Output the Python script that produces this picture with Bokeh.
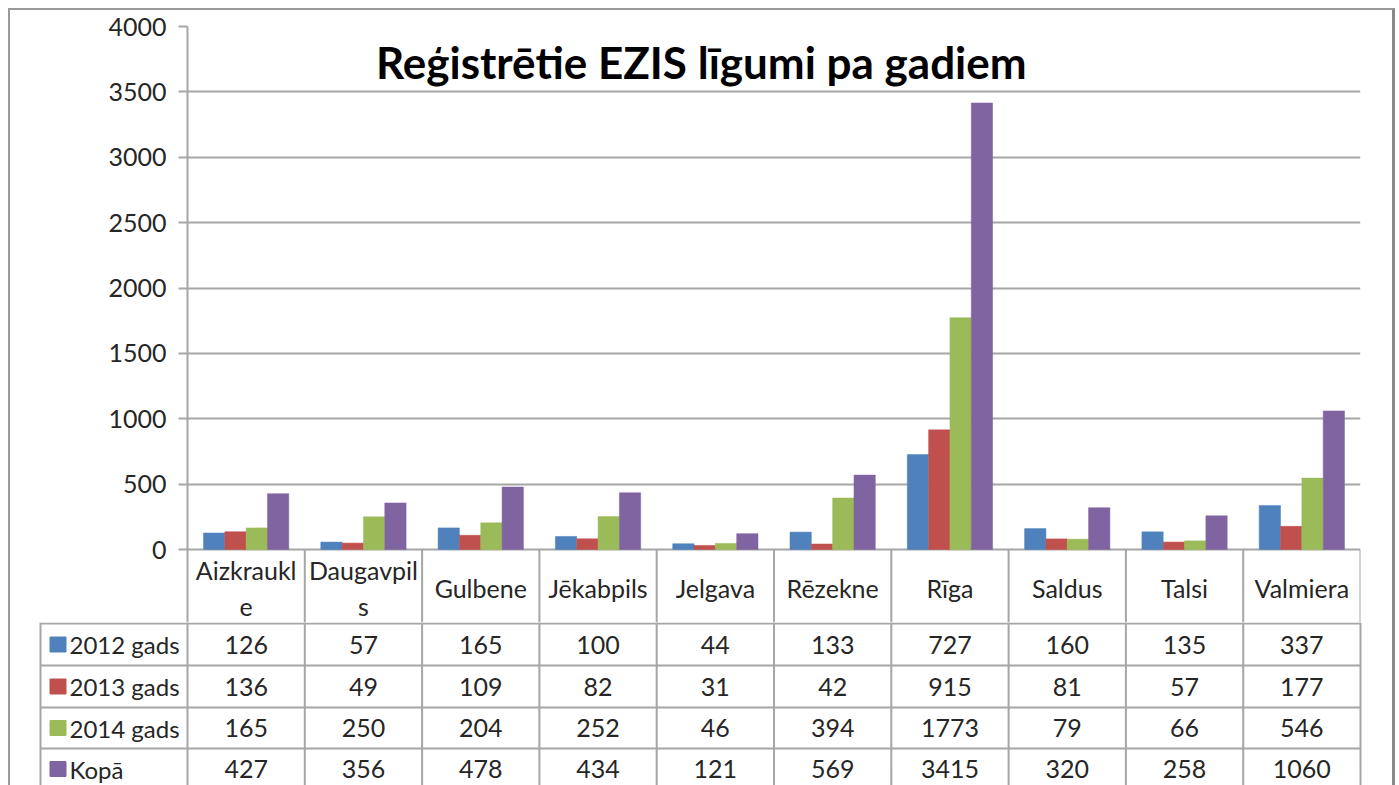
import numpy as np
from bokeh.plotting import figure
from bokeh.models import Range1d, FixedTicker, ColumnDataSource, Label
from bokeh.layouts import column
from bokeh.embed import file_html
from bokeh.resources import INLINE
from bokeh.core.properties import value

# ---------------- data ----------------
title_text = "Reģistrētie EZIS līgumi pa gadiem"
categories = ["Aizkraukle", "Daugavpils", "Gulbene", "Jēkabpils", "Jelgava",
              "Rēzekne", "Rīga", "Saldus", "Talsi", "Valmiera"]
series_names = ["2012 gads", "2013 gads", "2014 gads", "Kopā"]
v2012 = [126, 57, 165, 100, 44, 133, 727, 160, 135, 337]
v2013 = [136, 49, 109, 82, 31, 42, 915, 81, 57, 177]
v2014 = [165, 250, 204, 252, 46, 394, 1773, 79, 66, 546]
v_total = [427, 356, 478, 434, 121, 569, 3415, 320, 258, 1060]
y_ticks = [0, 500, 1000, 1500, 2000, 2500, 3000, 3500, 4000]
colors = ["#4F81BD", "#C0504D", "#9BBB59", "#8064A2"]

series = [v2012, v2013, v2014, v_total]

# ---------------- layout constants ----------------
W = 1382
FRAME_L = 177
CAT_PX = 117.3
N = len(categories)
FRAME_R_BORDER = W - FRAME_L - int(round(CAT_PX * N))
H1 = 612          # chart + category header row
H2 = 163          # data rows
FONT = "Lato"
TXT = "#262626"
LINE = "#A6A6A6"

# ---------------- top chart (with category header row) ----------------
px_per_val = 523.0 / 4000.0
header_px = 73
y_bottom = -header_px / px_per_val
p = figure(width=W, height=H1, output_backend="svg", toolbar_location=None,
           x_range=Range1d(-0.5, N - 0.5),
           y_range=Range1d(y_bottom, 4000),
           x_axis_location=None, min_border_left=FRAME_L,
           min_border_right=FRAME_R_BORDER, min_border_top=16,
           min_border_bottom=0)
p.frame_align = False
p.outline_line_color = None
p.background_fill_color = "white"
p.border_fill_color = "white"
p.xgrid.visible = False
p.ygrid.grid_line_color = LINE
p.ygrid.grid_line_width = 2
p.yaxis.ticker = FixedTicker(ticks=y_ticks)
p.yaxis.minor_tick_line_color = None
p.yaxis.major_tick_in = 0
p.yaxis.major_tick_out = 9
p.yaxis.major_tick_line_color = LINE
p.yaxis.major_tick_line_width = 2
p.yaxis.axis_line_color = LINE
p.yaxis.axis_line_width = 2
p.yaxis.major_label_text_font = FONT
p.yaxis.major_label_text_font_size = "25px"
p.yaxis.major_label_text_color = TXT
p.yaxis.major_label_standoff = 12

bw = 1.0 / 5.5
idx = np.arange(N)
for i, (vals, col) in enumerate(zip(series, colors)):
    src = ColumnDataSource(dict(x=idx + (i - 1.5) * bw, top=vals))
    p.vbar(x="x", top="top", width=bw, source=src, fill_color=col,
           line_color=col, line_width=0.5)

p.add_layout(Label(x=3.88, y=3725, text=title_text, text_font=FONT,
                   text_font_style="bold", text_font_size="44px",
                   text_align="center", text_baseline="middle",
                   text_color="black"))

# header cells: vertical separators and category names
hx = [k - 0.5 for k in range(1, N + 1)]
p.segment(x0=hx, y0=[0] * len(hx), x1=hx, y1=[y_bottom] * len(hx),
          line_color=LINE, line_width=2)


def wrap(name, width=9):
    return name if len(name) <= width else name[:width] + "\n" + name[width:]


hdr = ColumnDataSource(dict(x=list(idx), y=[-38 / px_per_val] * N,
                            text=[wrap(c) for c in categories]))
p.text(x="x", y="y", text="text", source=hdr, text_align="center",
       text_baseline="middle", text_font=value(FONT),
       text_font_size=value("25px"), text_color=TXT, text_line_height=1.2)

# ---------------- data rows below ----------------
u_start = -0.5 - FRAME_L / CAT_PX
u_end = u_start + W / CAT_PX
t = figure(width=W, height=H2, output_backend="svg", toolbar_location=None,
           x_range=Range1d(u_start, u_end), y_range=Range1d(H2, 0),
           x_axis_location=None, y_axis_location=None, min_border=0)
t.frame_align = False
t.outline_line_color = None
t.grid.visible = False
t.background_fill_color = "white"
t.border_fill_color = "white"

row_tops = [1, 43, 85, 126, 167]
u_leg = -0.5 - (187 - 40) / CAT_PX

# vertical lines
vx = [k - 0.5 for k in range(N + 1)] + [u_leg]
t.segment(x0=vx, y0=[0] * len(vx), x1=vx, y1=[H2 + 10] * len(vx),
          line_color=LINE, line_width=2)
# horizontal lines
hy = row_tops[:4]
t.segment(x0=[u_leg] * len(hy), y0=hy, x1=[N - 0.5] * len(hy), y1=hy,
          line_color=LINE, line_width=2)

# values
xs, ys, txt = [], [], []
for r, vals in enumerate(series):
    yc = (row_tops[r] + row_tops[r + 1]) / 2
    for c, v in enumerate(vals):
        xs.append(c)
        ys.append(yc)
        txt.append(str(v))
cells = ColumnDataSource(dict(x=xs, y=ys, text=txt))
t.text(x="x", y="y", text="text", source=cells, text_align="center",
       text_baseline="middle", text_font=value(FONT),
       text_font_size=value("25px"), text_color=TXT)

# legend keys + series names
row_c = [(row_tops[r] + row_tops[r + 1]) / 2 for r in range(4)]
u_key = -0.5 - (187 - 57.5) / CAT_PX
u_name = -0.5 - (187 - 69) / CAT_PX
t.rect(x=[u_key] * 4, y=row_c, width=16, height=15, width_units="screen",
       height_units="screen", fill_color=colors, line_color=colors)
t.text(x=[u_name] * 4, y=row_c, text=series_names, text_align="left",
       text_baseline="middle", text_font=value(FONT),
       text_font_size=value("24px"), text_color=TXT)

layout = column(p, t, spacing=0, margin=(8, 0, 0, 8),
                styles={"border-top": "2px solid #9a9a9a",
                        "border-left": "2px solid #9a9a9a",
                        "border-right": "3px solid #8a8a8a",
                        "background": "white"})

open("out.html", "w").write(file_html(layout, INLINE))
